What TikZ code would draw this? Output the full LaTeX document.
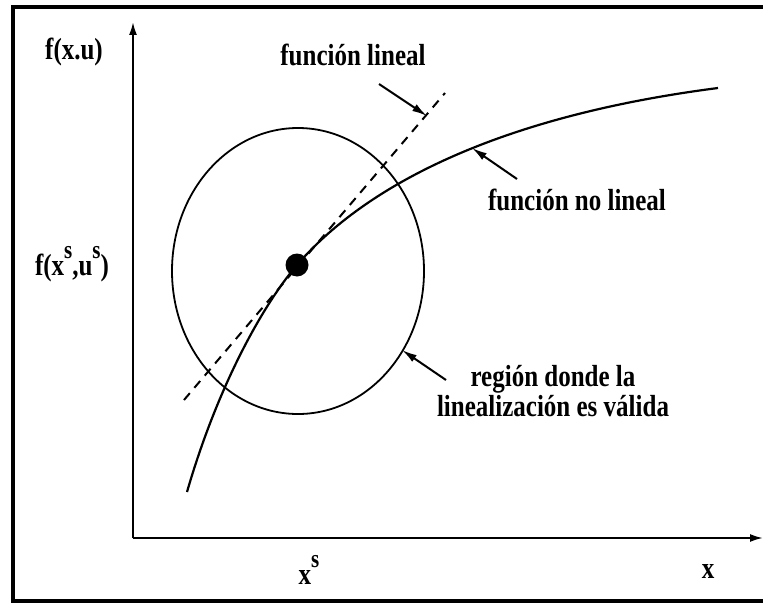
\documentclass[tikz,border=0pt]{standalone}
\usepackage{fontspec}
\setmainfont{Liberation Serif}
\usetikzlibrary{arrows.meta,shapes.geometric}
\newcommand{\tallt}[1]{\scalebox{1}[1.22]{#1}}
\newcommand{\supS}{\raisebox{0.55em}{\fontsize{21}{21}\selectfont s}}

\begin{document}
\begin{tikzpicture}[x=1pt, y=-1pt,
  font=\fontsize{25}{23}\selectfont\bfseries,
  lbl/.style={inner sep=0pt, align=center},
  ptr/.style={-{Latex[length=15pt,width=8pt]}, line width=2pt},
  axis/.style={-{Latex[length=13pt,width=8pt]}, line width=2pt}
]
  \useasboundingbox (0,0) rectangle (763,610);

  % frame and axes
  \draw[line width=3.5pt] (763,7) -- (13,7) -- (13,601) -- (763,601);
  \coordinate (o) at (133,538);
  \coordinate (ytop) at (133,22);
  \coordinate (xend) at (763,538);
  \draw[axis] (o) -- (ytop);
  \draw[axis] (o) -- (xend);

  % region, tangent and curve
  \node[draw, ellipse, line width=1.8pt, minimum width=252pt,
        minimum height=286pt, inner sep=0pt] (region) at (298,271) {};
  \coordinate (t1) at (184,400);
  \coordinate (t2) at (445,93);
  \draw[line width=2pt, dash pattern=on 9pt off 7pt] (t1) -- (t2);
  \node[circle, fill, minimum size=23pt, inner sep=0pt] (ss) at (297,265) {};
  \coordinate (c0) at (187,492);
  \coordinate (c1) at (718,88);
  \draw[line width=2.2pt] (c0) .. controls (217,388) and (262,306) .. (ss.center)
    .. controls (352,201) and (470,120) .. (c1);

  % labels
  \node[lbl] (fxu) at (74,52) {\tallt{f(x.u)}};
  \node[lbl] (fss) at (72,264) {\tallt{f(x\supS,u\supS)}};
  \node[lbl] (xs) at (309,570) {\tallt{x\supS}};
  \node[lbl] (xlab) at (708,571) {\tallt{x}};
  \node[lbl] (flin) at (353,55) {\tallt{función lineal}};
  \node[lbl] (fnl) at (577,200) {\tallt{función no lineal}};
  \node[lbl] (reg) at (553,395) {\tallt{\begin{tabular}{@{}c@{}}región donde la\\
    linealización es válida\end{tabular}}};

  % pointers
  \coordinate (pa) at (379,84);
  \coordinate (pb) at (427,116);
  \coordinate (pc) at (517,179);
  \coordinate (pd) at (472,148);
  \coordinate (pe) at (446,380);
  \coordinate (pf) at (402,350);
  \draw[ptr] (pa) -- (pb);
  \draw[ptr] (pc) -- (pd);
  \draw[ptr] (pe) -- (pf);
\end{tikzpicture}
\end{document}
